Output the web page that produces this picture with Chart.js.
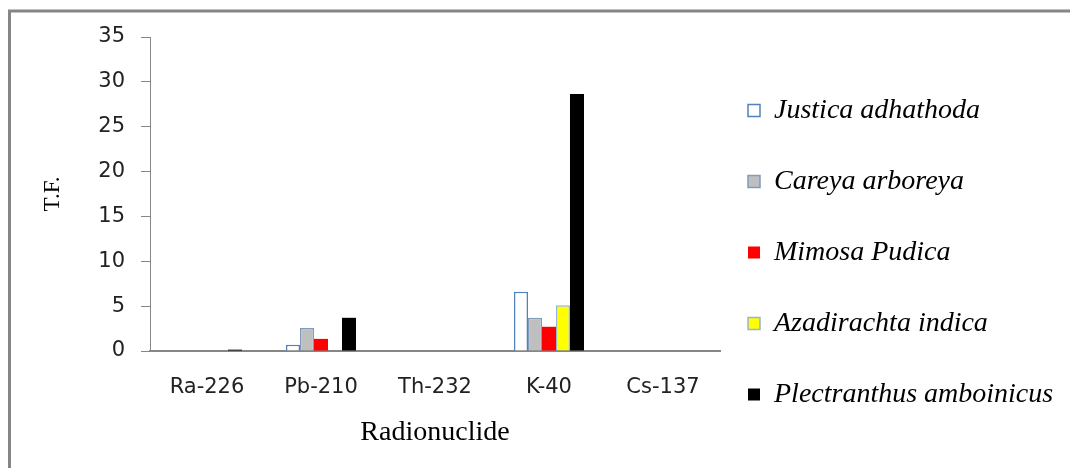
<!DOCTYPE html>
<html>
<head>
<meta charset="utf-8">
<script src="https://cdn.jsdelivr.net/npm/chart.js@4.4.1/dist/chart.umd.min.js"></script>
<style>
  html, body { margin: 0; padding: 0; background: #fff; }
  #wrap { position: absolute; left: 0; top: 0; width: 1070px; height: 468px; }
</style>
</head>
<body>
<div id="wrap"><canvas id="tfChart"></canvas></div>
<script>
// categories and series (T.F. values)
const radionuclides = ['Ra-226', 'Pb-210', 'Th-232', 'K-40', 'Cs-137'];
const justica = [0, 0.7, 0, 6.6, 0];
const careya = [0, 2.55, 0, 3.7, 0];
const mimosa = [0, 1.35, 0, 2.7, 0];
const azadirachta = [0, 0, 0, 5.1, 0];
const plectranthus = [0.15, 3.7, 0, 28.65, 0];
const yTicks = [0, 5, 10, 15, 20, 25, 30, 35];

// frame of the original figure (only top and left edges show)
const framePlugin = {
  id: 'frame',
  beforeDraw(chart) {
    const ctx = chart.ctx;
    ctx.save();
    ctx.strokeStyle = '#868686';
    ctx.lineWidth = 3;
    ctx.beginPath();
    ctx.moveTo(9.5, 468);
    ctx.lineTo(9.5, 11);
    ctx.lineTo(1070, 11);
    ctx.stroke();
    ctx.restore();
  },
  // pull the legend a bit closer to the plot, like the original
  afterLayout(chart) {
    if (chart.legend) {
      chart.legend.left -= 15;
      chart.legend.right -= 15;
    }
  }
};

const ctx = document.getElementById('tfChart').getContext('2d');
new Chart(ctx, {
  type: 'bar',
  data: {
    labels: radionuclides,
    datasets: [
      { label: 'Justica adhathoda', data: justica, backgroundColor: '#ffffff', borderColor: '#4f81bd', borderWidth: 1.5 },
      { label: 'Careya arboreya', data: careya, backgroundColor: '#bfbfbf', borderColor: '#7f9cc0', borderWidth: 1.5 },
      { label: 'Mimosa Pudica', data: mimosa, backgroundColor: '#ff0000', borderColor: '#ff0000', borderWidth: 0 },
      { label: 'Azadirachta indica', data: azadirachta, backgroundColor: '#ffff00', borderColor: '#95b3d7', borderWidth: 1.5 },
      { label: 'Plectranthus amboinicus', data: plectranthus, backgroundColor: '#000000', borderColor: '#000000', borderWidth: 0 }
    ]
  },
  options: {
    responsive: true,
    maintainAspectRatio: false,
    animation: false,
    categoryPercentage: 0.614,
    barPercentage: 1,
    layout: { padding: { top: 37, left: 8, right: 0, bottom: 0 } },
    scales: {
      x: {
        grid: { display: false, drawTicks: false },
        border: { color: '#868686', width: 2 },
        ticks: { color: '#222', font: { family: 'DejaVu Sans', size: 21 }, padding: 24 },
        title: {
          display: true,
          text: 'Radionuclide',
          color: '#000',
          font: { family: 'Liberation Serif', size: 28 },
          padding: { top: 14, bottom: 19 }
        },
        afterFit(scale) { scale.height = 117; }
      },
      y: {
        min: 0,
        max: 35,
        afterBuildTicks(scale) { scale.ticks = yTicks.map(v => ({ value: v })); },
        grid: { drawOnChartArea: false, drawTicks: true, tickLength: 9, color: '#868686' },
        border: { color: '#868686', width: 1 },
        ticks: { color: '#222', font: { family: 'DejaVu Sans', size: 21 }, padding: 16 },
        title: {
          display: true,
          text: 'T.F.',
          color: '#000',
          font: { family: 'Liberation Serif', size: 23 },
          padding: { top: 31, bottom: 0 }
        },
        afterFit(scale) { scale.width = 142; }
      }
    },
    plugins: {
      tooltip: { enabled: false },
      legend: {
        position: 'right',
        maxWidth: 350,
        labels: {
          color: '#000',
          boxWidth: 12,
          boxHeight: 12,
          padding: 43,
          font: { family: 'Liberation Serif', size: 28, style: 'italic' }
        }
      }
    }
  },
  plugins: [framePlugin]
});
</script>
</body>
</html>
